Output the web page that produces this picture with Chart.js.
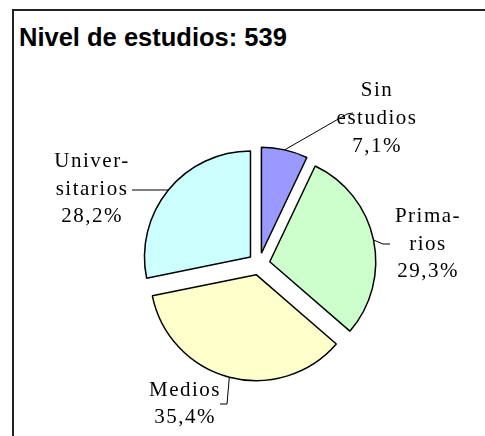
<!DOCTYPE html>
<html>
<head>
<meta charset="utf-8">
<script src="https://cdn.jsdelivr.net/npm/chart.js@4.4.1/dist/chart.umd.min.js"></script>
<style>
  html, body { margin: 0; padding: 0; background: #fff; }
  #wrap { position: relative; width: 485px; height: 436px; overflow: hidden; }
  #frame { position: absolute; left: 12px; top: 9px; width: 600px; height: 600px;
           border-left: 2px solid #222; border-top: 2px solid #222; }
  #title { position: absolute; left: 19px; top: 23px; font: bold 25.5px "Liberation Sans", Arial, sans-serif;
           color: #000; white-space: nowrap; }
  canvas { position: absolute; left: 0; top: 0; }
</style>
</head>
<body>
<div id="wrap">
  <div id="frame"></div>
  <div id="title">Nivel de estudios: 539</div>
  <canvas id="c" width="485" height="436"></canvas>
</div>
<script>
// ---- data ----
const categories = ["Sin estudios", "Primarios", "Medios", "Universitarios"];
const counts = [38, 158, 191, 152];          // total 539
const percentLabels = ["7,1%", "29,3%", "35,4%", "28,2%"];
const labelLines = [["Sin", "estudios"], ["Prima-", "rios"], ["Medios"], ["Univer-", "sitarios"]];
const colors = ["#9999FF", "#CCFFCC", "#FFFFCC", "#CCFFFF"];

// ---- style / layout ----
const EXPLODE = 11;   // distance each slice is pulled out
const labelLayout = [
  { x: 377, y: 96,  lh: 28,   leader: [[347, 114], [353, 113]] },
  { x: 428, y: 222, lh: 27.5, leader: [[383, 244], [390, 244]] },
  { x: 185, y: 396, lh: 27,   leader: [[227, 404], [220, 404]] },
  { x: 92,  y: 167, lh: 27.5, leader: [[132, 190]] }
];

const explodePlugin = {
  id: 'explode',
  beforeDatasetDraw(chart, args) {
    const ctx = chart.ctx;
    args.meta.data.forEach(arc => {
      const mid = (arc.startAngle + arc.endAngle) / 2;
      ctx.save();
      ctx.translate(Math.cos(mid) * EXPLODE, Math.sin(mid) * EXPLODE);
      arc.draw(ctx);
      ctx.restore();
    });
    return false;
  }
};

const labelPlugin = {
  id: 'pieLabels',
  afterDatasetsDraw(chart) {
    const ctx = chart.ctx;
    const meta = chart.getDatasetMeta(0);
    ctx.save();
    meta.data.forEach((arc, i) => {
      const mid = (arc.startAngle + arc.endAngle) / 2;
      const r = arc.outerRadius + EXPLODE;
      const ax = arc.x + Math.cos(mid) * r;
      const ay = arc.y + Math.sin(mid) * r;
      const L = labelLayout[i];
      ctx.strokeStyle = '#000';
      ctx.lineWidth = 1;
      ctx.beginPath();
      ctx.moveTo(ax, ay);
      L.leader.forEach(pt => ctx.lineTo(pt[0], pt[1]));
      ctx.stroke();
      ctx.fillStyle = '#000';
      ctx.font = '21px "Liberation Serif", "Times New Roman", serif';
      ctx.textAlign = 'center';
      ctx.textBaseline = 'alphabetic';
      try { ctx.letterSpacing = '1.5px'; } catch (e) {}
      const lines = labelLines[i].concat([percentLabels[i]]);
      lines.forEach((t, k) => ctx.fillText(t, L.x, L.y + k * L.lh));
    });
    ctx.restore();
  }
};

new Chart(document.getElementById('c'), {
  type: 'pie',
  data: {
    labels: categories,
    datasets: [{
      data: counts,
      backgroundColor: colors,
      borderColor: '#000',
      borderWidth: 1.5,
      radius: 106,
      offset: 0,
      hoverOffset: 0
    }]
  },
  options: {
    responsive: false,
    animation: false,
    events: [],
    layout: { padding: { left: 146.5, right: 113.5, top: 151.5, bottom: 59.5 } },
    plugins: { legend: { display: false }, tooltip: { enabled: false }, title: { display: false } }
  },
  plugins: [explodePlugin, labelPlugin]
});
</script>
</body>
</html>
